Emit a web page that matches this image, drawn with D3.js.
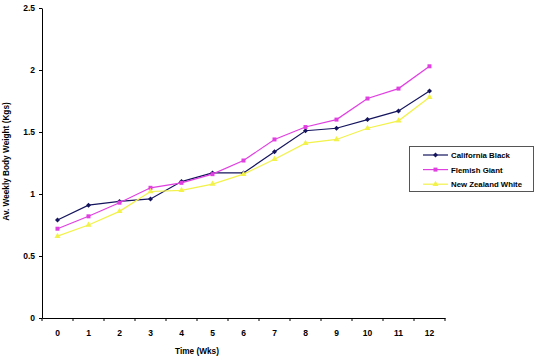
<!DOCTYPE html>
<html><head><meta charset="utf-8">
<script src="https://cdn.jsdelivr.net/npm/d3@7"></script>
<style>
body{margin:0;background:#fff;}
text{font-family:Arial,"Liberation Sans",sans-serif;}
</style></head>
<body><svg id="c" width="539" height="364"></svg>
<script>
const weeks = ["0","1","2","3","4","5","6","7","8","9","10","11","12"];
const californiaBlack = [0.79,0.91,0.94,0.96,1.10,1.17,1.17,1.34,1.51,1.53,1.60,1.67,1.83];
const flemishGiant = [0.72,0.82,0.93,1.05,1.09,1.16,1.27,1.44,1.54,1.60,1.77,1.85,2.03];
const newZealandWhite = [0.66,0.75,0.86,1.02,1.03,1.08,1.16,1.28,1.41,1.44,1.53,1.59,1.78];
const seriesNames = ["California Black","Flemish Giant","New Zealand White"];
const yTicks = [0,0.5,1,1.5,2,2.5];

const series = [
  {name:seriesNames[0], values:californiaBlack, color:"#14145e", sym:d3.symbolDiamond2, size:16},
  {name:seriesNames[1], values:flemishGiant, color:"#e040e0", sym:d3.symbolSquare, size:16},
  {name:seriesNames[2], values:newZealandWhite, color:"#f2f24a", sym:d3.symbolTriangle, size:16}
];

const svg = d3.select("#c");
const x = d3.scaleBand().domain(weeks).range([42,445]);
const y = d3.scaleLinear().domain([0,2.5]).range([318,8]);

const ya = svg.append("g").attr("transform","translate(42,0)")
  .call(d3.axisLeft(y).tickValues(yTicks).tickFormat(d=>String(d)).tickSize(3).tickSizeOuter(0));
ya.select(".domain").attr("stroke","#000");
ya.selectAll("text").attr("font-size",8.5).attr("font-weight","bold").attr("x",-7);

const xa = svg.append("g").attr("transform","translate(0,318)")
  .call(d3.axisBottom(x).tickSize(0).tickSizeOuter(0));
xa.select(".domain").attr("stroke","#000");
xa.selectAll("text").attr("font-size",8.5).attr("font-weight","bold").attr("dy","1.75em");
xa.selectAll("line.bt").data(d3.range(weeks.length+1)).enter().append("line")
  .attr("class","bt")
  .attr("x1",i=>x.range()[0]+i*x.step()).attr("x2",i=>x.range()[0]+i*x.step())
  .attr("y1",0).attr("y2",3).attr("stroke","#000");

const line = d3.line().x((d,i)=>x(weeks[i])+x.bandwidth()/2).y(d=>y(d));
series.forEach(s=>{
  svg.append("path").attr("d",line(s.values)).attr("fill","none")
    .attr("stroke",s.color).attr("stroke-width",1.2);
  svg.append("g").selectAll("path").data(s.values).enter().append("path")
    .attr("d",d3.symbol().type(s.sym).size(s.size))
    .attr("transform",(d,i)=>`translate(${x(weeks[i])+x.bandwidth()/2},${y(d)})`)
    .attr("fill",s.color);
});

svg.append("text").attr("x",197).attr("y",354).attr("text-anchor","middle")
  .attr("font-size",8.25).attr("font-weight","bold").text("Time (Wks)");
svg.append("text").attr("transform","translate(9,161.5) rotate(-90)").attr("text-anchor","middle")
  .attr("font-size",8.25).attr("font-weight","bold").text("Av. Weekly Body Weight (Kgs)");

const lg = svg.append("g");
lg.append("rect").attr("x",409.5).attr("y",146.5).attr("width",124).attr("height",45)
  .attr("fill","#fff").attr("stroke","#555");
series.forEach((s,i)=>{
  const yy = 155+i*14.6;
  lg.append("line").attr("x1",423).attr("x2",448).attr("y1",yy).attr("y2",yy)
    .attr("stroke",s.color).attr("stroke-width",1.2);
  lg.append("path").attr("d",d3.symbol().type(s.sym).size(s.size))
    .attr("transform",`translate(435.5,${yy})`).attr("fill",s.color);
  lg.append("text").attr("x",451).attr("y",yy+3).attr("font-size",7.8).attr("font-weight","bold").text(s.name);
});
</script></body></html>
